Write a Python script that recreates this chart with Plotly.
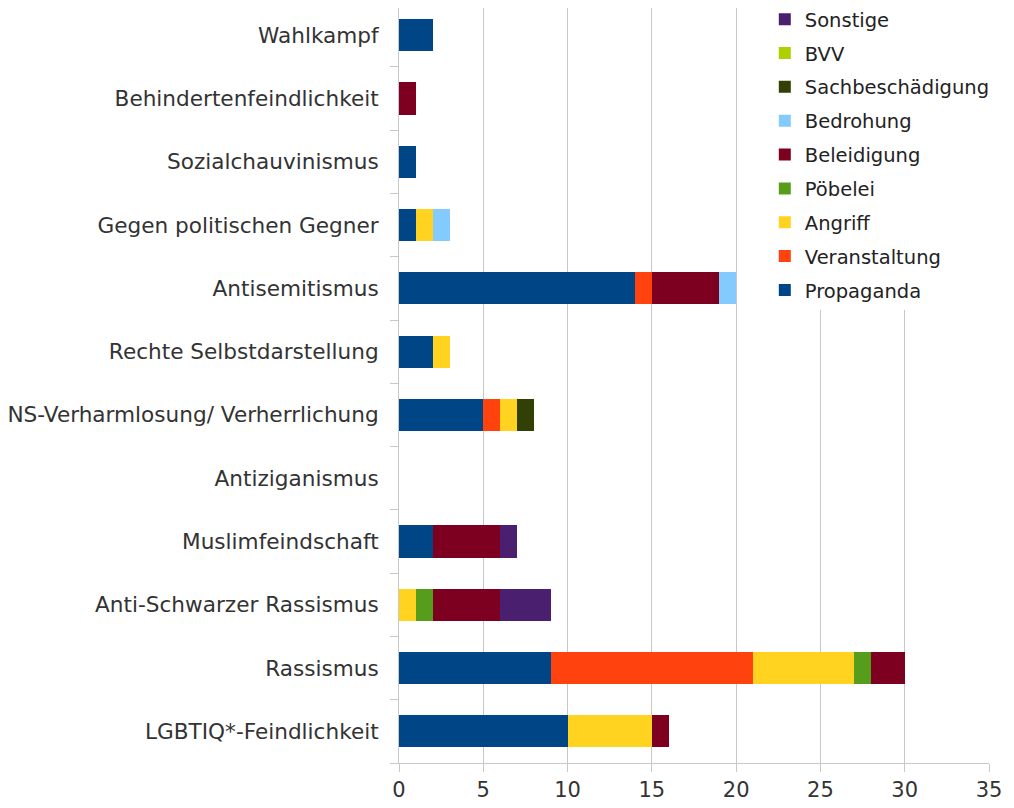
import plotly.graph_objects as go

# Kategorien (von unten nach oben)
kategorien = ["LGBTIQ*-Feindlichkeit", "Rassismus", "Anti-Schwarzer Rassismus",
              "Muslimfeindschaft", "Antiziganismus", "NS-Verharmlosung/ Verherrlichung",
              "Rechte Selbstdarstellung", "Antisemitismus", "Gegen politischen Gegner",
              "Sozialchauvinismus", "Behindertenfeindlichkeit", "Wahlkampf"]

propaganda = [10, 9, 0, 2, 0, 5, 2, 14, 1, 1, 0, 2]
veranstaltung = [0, 12, 0, 0, 0, 1, 0, 1, 0, 0, 0, 0]
angriff = [5, 6, 1, 0, 0, 1, 1, 0, 1, 0, 0, 0]
poebelei = [0, 1, 1, 0, 0, 0, 0, 0, 0, 0, 0, 0]
beleidigung = [1, 2, 4, 4, 0, 0, 0, 4, 0, 0, 1, 0]
bedrohung = [0, 0, 0, 0, 0, 0, 0, 1, 1, 0, 0, 0]
sachbeschaedigung = [0, 0, 0, 0, 0, 1, 0, 0, 0, 0, 0, 0]
bvv = [0, 0, 0, 0, 0, 0, 0, 0, 0, 0, 0, 0]
sonstige = [0, 0, 3, 1, 0, 0, 0, 0, 0, 0, 0, 0]

serien = [
    ("Propaganda", propaganda, "#004586"),
    ("Veranstaltung", veranstaltung, "#ff420e"),
    ("Angriff", angriff, "#ffd320"),
    ("Pöbelei", poebelei, "#579d1c"),
    ("Beleidigung", beleidigung, "#7e0021"),
    ("Bedrohung", bedrohung, "#83caff"),
    ("Sachbeschädigung", sachbeschaedigung, "#314004"),
    ("BVV", bvv, "#aecf00"),
    ("Sonstige", sonstige, "#4b1f6f"),
]

schrift = "DejaVu Sans, Liberation Sans, Arial, sans-serif"

fig = go.Figure()
for i, (name, werte, farbe) in enumerate(serien):
    fig.add_trace(go.Bar(
        y=kategorien, x=werte, name=name, orientation="h",
        legendgroup=name, legendrank=100 - i,
        marker=dict(color=farbe, line=dict(width=0)),
    ))

fig.update_layout(
    barmode="stack",
    bargap=0.49,
    width=1014, height=808,
    margin=dict(l=391, r=33, t=0, b=53, autoexpand=False),
    paper_bgcolor="white", plot_bgcolor="white",
    font=dict(family=schrift, size=20, color="#333333"),
    legend=dict(
        traceorder="grouped",
        x=0.62, y=1.0106, xanchor="left", yanchor="top",
        bgcolor="white",
        font=dict(family=schrift, size=19.5, color="#222222"),
        tracegroupgap=5.5,
        itemwidth=30,
    ),
    xaxis=dict(
        range=[0, 35], dtick=5, showgrid=True, gridcolor="#c8c8c8", gridwidth=1,
        ticks="outside", ticklen=8, tickcolor="#c8c8c8",
        showline=True, linecolor="#c8c8c8", zeroline=False,
        tickfont=dict(size=21, color="#333333"),
    ),
    yaxis=dict(
        categoryorder="array", categoryarray=kategorien,
        range=[-0.5, 11.43],
        ticks="outside", tickson="boundaries", ticklen=8, tickcolor="#c8c8c8",
        showline=True, linecolor="#c8c8c8", showgrid=False,
        ticklabelstandoff=15,
        tickfont=dict(size=21.6, color="#333333"),
    ),
)

fig.write_html("out.html")
